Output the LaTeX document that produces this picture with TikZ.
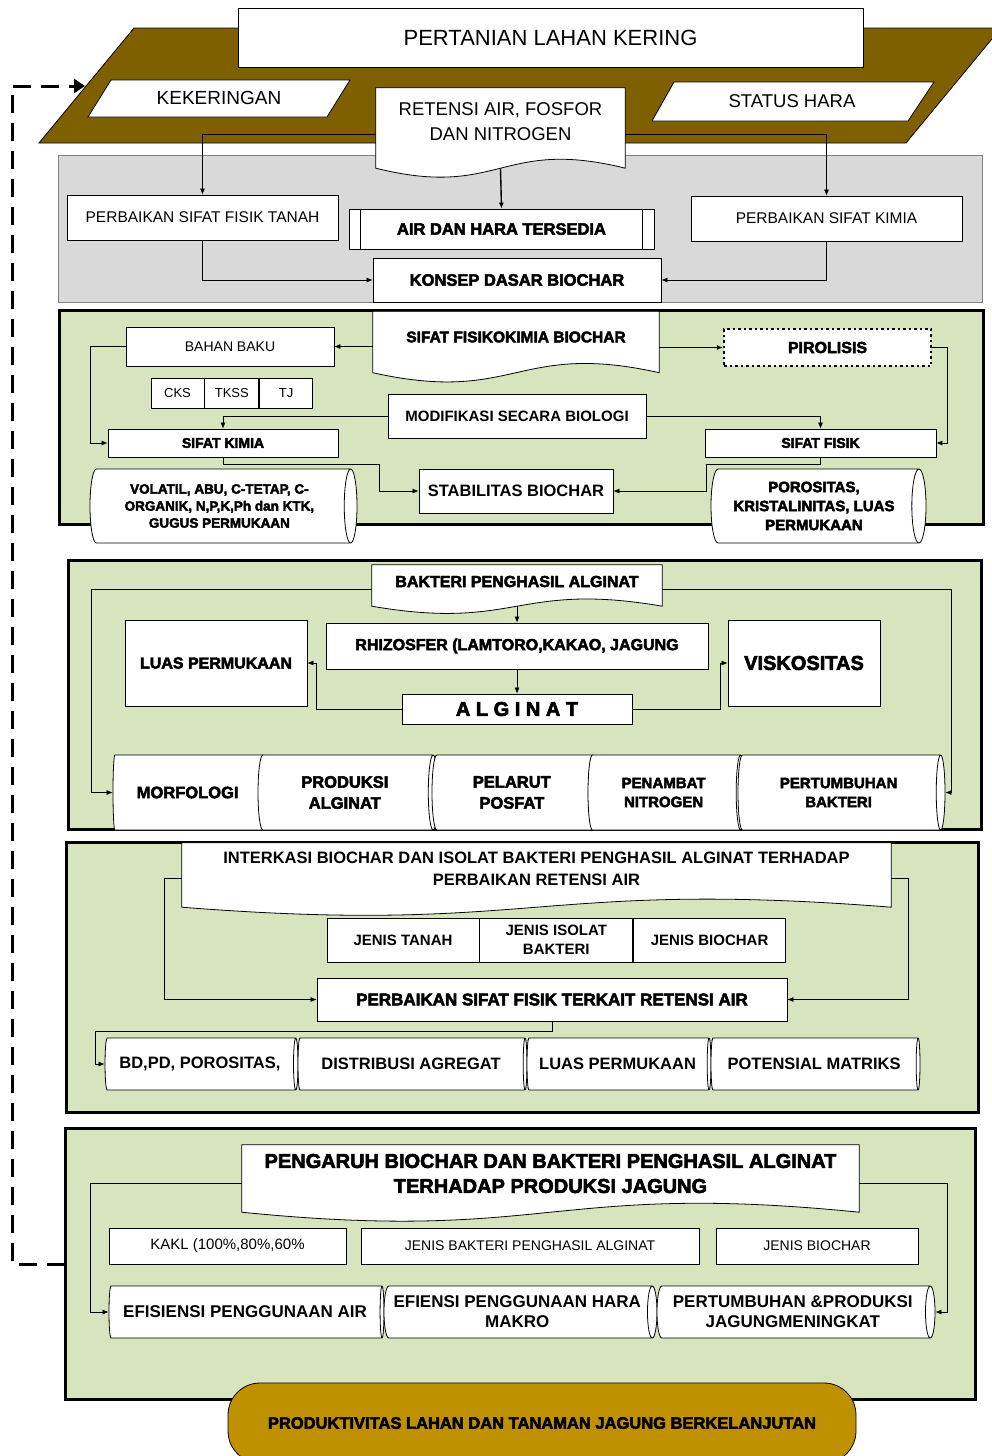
\documentclass[tikz,border=0pt]{standalone}
\usepackage{fontspec}
\setmainfont{Liberation Sans}
\newfontfamily\heavyfont[FakeBold=3]{Liberation Sans}
\usetikzlibrary{shapes,arrows.meta,positioning,calc}
\pgfdeclarelayer{back}
\pgfdeclarelayer{mid}
\pgfsetlayers{back,mid,main}
\definecolor{brownland}{HTML}{7F6000}
\definecolor{graypanel}{HTML}{D9D9D9}
\definecolor{greenpanel}{HTML}{D7E4BD}
\definecolor{goldprod}{HTML}{BF9000}
\newcommand{\fhv}[2]{\fontsize{#1}{#2}\selectfont\heavyfont\bfseries}
\newcommand{\fbd}[2]{\fontsize{#1}{#2}\selectfont\bfseries}
\newcommand{\frg}[2]{\fontsize{#1}{#2}\selectfont}
\newcommand{\wavedoc}[3]{%
  \begin{pgfonlayer}{mid}
    \draw[fill=white, line width=0.8pt] (#1.north west) -- (#1.north east) -- ([yshift=-#2]#1.south east)
      .. controls ($([yshift=-#2]#1.south)+(0,-#3)$) and ($([yshift=-#2]#1.south)+(0,#3)$) .. ([yshift=-#2]#1.south west) -- cycle;
  \end{pgfonlayer}}
\begin{document}
\begin{tikzpicture}[x=1pt, y=-1pt,
  box/.style={draw, fill=white, line width=0.8pt, align=center, inner sep=1pt},
  cyl/.style={cylinder, shape aspect=0.28, draw, fill=white, line width=0.8pt, align=center, inner sep=1pt, anchor=shape center},
  docbox/.style={align=center, inner sep=0pt},
  arr/.style={-{Latex[length=6pt,width=5pt]}, line width=0.7pt},
  panel/.style={draw=black, line width=3pt, fill=greenpanel}]
\useasboundingbox (0,0) rectangle (992,1456);

\begin{pgfonlayer}{back}
\draw[fill=brownland, line width=0.8pt] (39,143) -- (134,28) -- (1001,28) -- (906,143) -- cycle;
\draw[draw=gray, fill=graypanel, line width=0.8pt] (58,155) rectangle (982,302);
\draw[panel] (59,310) rectangle (983,524);
\draw[panel] (68,560) rectangle (981,829);
\draw[panel] (66,842) rectangle (978,1112);
\draw[panel] (65,1128) rectangle (975,1399);
\end{pgfonlayer}

\draw[fill=white, line width=0.8pt] (88,117) -- (111,80) -- (350,80) -- (327,117) -- cycle;
\draw[fill=white, line width=0.8pt] (652,121) -- (674,82) -- (934,82) -- (908,121) -- cycle;
\node[box, minimum width=625pt, minimum height=59pt, font=\frg{22}{26}] (lahan) at (550.5,37.5) {PERTANIAN LAHAN KERING};
\node[font=\frg{19}{22}] (kering) at (219,98) {KEKERINGAN};
\node[font=\frg{18.5}{22}] (hara) at (792,101) {STATUS HARA};
\node[docbox, minimum width=249pt, minimum height=67pt, font=\frg{18.5}{25}] (retensi) at (500.5,121.5) {RETENSI AIR, FOSFOR\\DAN NITROGEN};
\wavedoc{retensi}{13pt}{31}
\node[box, minimum width=271pt, minimum height=45pt, font=\frg{15.5}{18}] (pfisik) at (202.5,217.5) {PERBAIKAN SIFAT FISIK TANAH};
\node[box, minimum width=305pt, minimum height=40pt, font=\fhv{16.5}{19}] (air) at (501.5,229) {AIR DAN HARA TERSEDIA};
\draw[line width=0.8pt] ([xshift=12pt]air.north west) -- ([xshift=12pt]air.south west)
  ([xshift=-12pt]air.north east) -- ([xshift=-12pt]air.south east);
\node[box, minimum width=271pt, minimum height=45pt, font=\frg{15.5}{18}] (pkimia) at (826.5,218.5) {PERBAIKAN SIFAT KIMIA};
\node[box, minimum width=288pt, minimum height=44pt, font=\fhv{16.5}{19}] (konsep) at (517,280) {KONSEP DASAR BIOCHAR};
\draw[arr] ([yshift=-12.5pt]retensi.west) -| (pfisik.north);
\draw[arr] ([yshift=-12.5pt]retensi.east) -| (pkimia.north);
\draw[arr, line width=1.4pt] ([yshift=-13pt]retensi.south) -- (air.north);
\draw[arr] (pfisik.south) |- (konsep.west);
\draw[arr] (pkimia.south) |- (konsep.east);

\node[docbox, minimum width=286pt, minimum height=51pt, font=\fhv{15.5}{18}] (fisiko) at (516,337) {SIFAT FISIKOKIMIA BIOCHAR};
\wavedoc{fisiko}{10pt}{32}
\node[box, minimum width=208pt, minimum height=39pt, font=\frg{14}{17}] (bahan) at (230,346.5) {BAHAN BAKU};
\node[box, line width=2.5pt, dash pattern=on 2.5pt off 3pt, minimum width=207pt, minimum height=37pt, font=\fhv{16}{19}] (piro) at (827.5,347.5) {PIROLISIS};
\node[box, minimum width=53pt, minimum height=30pt, font=\frg{13}{15}] (cks) at (177.5,393) {CKS};
\node[box, minimum width=54pt, minimum height=30pt, font=\frg{13}{15}, right=0pt of cks] (tkss) {TKSS};
\node[box, minimum width=53pt, minimum height=30pt, font=\frg{13}{15}, right=0pt of tkss] (tj) {TJ};
\node[box, minimum width=258pt, minimum height=44pt, font=\fbd{15}{18}] (modif) at (517,416) {MODIFIKASI SECARA BIOLOGI};
\node[box, minimum width=230pt, minimum height=28pt, font=\fhv{14}{16}] (skimia) at (223,443) {SIFAT KIMIA};
\node[box, minimum width=231pt, minimum height=28pt, font=\fhv{14}{16}] (sfisik) at (820.5,443) {SIFAT FISIK};
\node[cyl, minimum height=267pt, minimum width=74pt, font=\fhv{13.5}{17}] (volatil) at (223.5,506) {VOLATIL, ABU, C-TETAP, C-\\ORGANIK, N,P,K,Ph dan KTK,\\GUGUS PERMUKAAN};
\node[box, minimum width=194pt, minimum height=44pt, font=\fbd{16.5}{19}] (stabil) at (516,491) {STABILITAS BIOCHAR};
\node[cyl, minimum height=215pt, minimum width=74pt, font=\fhv{15}{19}] (poros) at (818.5,506) {POROSITAS,\\KRISTALINITAS, LUAS\\PERMUKAAN};
\draw[arr] (fisiko.west |- bahan.east) -- (bahan.east);
\draw[arr] (fisiko.east |- piro.west) -- (piro.west);
\draw[arr] (modif.west) -| (skimia.north);
\draw[arr] (modif.east) -| (sfisik.north);
\draw[arr] (bahan.west) -- ++(-35,0) |- (skimia.west);
\draw[arr] (piro.east) -- ++(15,0) |- (sfisik.east);
\draw[arr] (skimia.south) -- ++(0,7) -| ([xshift=-39pt]stabil.west) -- (stabil.west);
\draw[arr] (sfisik.south) -- ++(0,7) -| ([xshift=93pt]stabil.east) -- (stabil.east);

\node[docbox, minimum width=290pt, minimum height=33pt, font=\fhv{16}{19}] (bakteri) at (517,581.5) {BAKTERI PENGHASIL ALGINAT};
\wavedoc{bakteri}{8pt}{25}
\node[box, minimum width=182pt, minimum height=86pt, font=\fhv{16}{19}] (luas) at (216,663) {LUAS PERMUKAAN};
\node[box, minimum width=382pt, minimum height=46pt, font=\fhv{16}{19}] (rhizo) at (517,646) {RHIZOSFER (LAMTORO,KAKAO, JAGUNG};
\node[box, minimum width=152pt, minimum height=86pt, font=\fhv{20}{24}] (visko) at (804,663) {VISKOSITAS};
\node[box, minimum width=230pt, minimum height=30pt, font=\fhv{20}{24}] (alginat) at (517,709) {A L G I N A T};
\node[cyl, minimum height=152pt, minimum width=75pt, font=\fhv{16.5}{21}] (morf) at (189,792.5) {MORFOLOGI};
\node[cyl, minimum height=180pt, minimum width=75pt, font=\fhv{16.5}{21}] (prod) at (348,792.5) {PRODUKSI\\ALGINAT};
\node[cyl, minimum height=166pt, minimum width=75pt, font=\fhv{16.5}{21}] (pelarut) at (515,792.5) {PELARUT\\POSFAT};
\node[cyl, minimum height=157pt, minimum width=75pt, font=\fhv{15}{19}] (penambat) at (666.5,792.5) {PENAMBAT\\NITROGEN};
\node[cyl, minimum height=207pt, minimum width=75pt, font=\fhv{15}{19}] (pertumb) at (841.5,792.5) {PERTUMBUHAN\\BAKTERI};
\draw[arr] ([yshift=-8pt]bakteri.west) -- ++(-280,0) |- (morf.west);
\draw[arr] ([yshift=-8pt]bakteri.east) -- ++(289,0) |- (pertumb.east);
\draw[arr] ([yshift=-8pt]bakteri.south) -- (rhizo.north);
\draw[arr] (rhizo.south) -- (alginat.north);
\draw[arr] (alginat.west) -- ++(-85,0) |- (luas.east);
\draw[arr] (alginat.east) -- ++(88,0) |- (visko.west);

\node[docbox, minimum width=709pt, minimum height=52pt, font=\fbd{16.5}{22}] (interk) at (536.5,869) {INTERKASI BIOCHAR DAN ISOLAT BAKTERI PENGHASIL ALGINAT TERHADAP\\PERBAIKAN RETENSI AIR};
\wavedoc{interk}{12pt}{28}
\node[box, minimum width=152pt, minimum height=44pt, font=\fbd{15}{19}] (jtanah) at (403,940) {JENIS TANAH};
\node[box, minimum width=153pt, minimum height=44pt, font=\fbd{15}{19}, right=0pt of jtanah] (jisolat) {JENIS ISOLAT\\BAKTERI};
\node[box, minimum width=152pt, minimum height=44pt, font=\fbd{15}{19}, right=0pt of jisolat] (jbiochar) {JENIS BIOCHAR};
\node[box, minimum width=470pt, minimum height=43pt, font=\fhv{17}{19}] (perbfisik) at (552,999.5) {PERBAIKAN SIFAT FISIK TERKAIT RETENSI AIR};
\node[cyl, minimum height=193pt, minimum width=52pt, font=\fbd{16.5}{19}] (bdpd) at (201.5,1064) {BD,PD, POROSITAS,};
\node[cyl, minimum height=229pt, minimum width=52pt, font=\fbd{16.5}{19}] (distrib) at (412.5,1064) {DISTRIBUSI AGREGAT};
\node[cyl, minimum height=184pt, minimum width=52pt, font=\fbd{16.5}{19}] (luasp) at (619,1064) {LUAS PERMUKAAN};
\node[cyl, minimum height=209pt, minimum width=52pt, font=\fbd{16.5}{19}] (potens) at (815.5,1064) {POTENSIAL MATRIKS};
\draw[arr] ([yshift=-9pt]interk.west) -- ++(-17,0) |- (perbfisik.west);
\draw[arr] ([yshift=-9pt]interk.east) -- ++(17,0) |- (perbfisik.east);
\draw[arr] (perbfisik.south) -- ++(0,10) -| ([xshift=-9pt]bdpd.west) -- (bdpd.west);

\node[docbox, minimum width=617pt, minimum height=57pt, font=\fhv{20}{25}] (pengaruh) at (550.5,1173.5) {PENGARUH BIOCHAR DAN BAKTERI PENGHASIL ALGINAT\\TERHADAP PRODUKSI JAGUNG};
\wavedoc{pengaruh}{10pt}{31}
\node[box, minimum width=237pt, minimum height=36pt, font=\frg{15}{18}] (kakl) at (227.5,1246) {KAKL (100\%,80\%,60\%};
\node[box, minimum width=338pt, minimum height=36pt, font=\frg{14}{17}] (jbakteri) at (530,1246) {JENIS BAKTERI PENGHASIL ALGINAT};
\node[box, minimum width=202pt, minimum height=36pt, font=\frg{14}{17}] (jbio) at (817,1246) {JENIS BIOCHAR};
\node[cyl, minimum height=275pt, minimum width=52pt, font=\fbd{17}{20}] (efis) at (246.5,1312) {EFISIENSI PENGGUNAAN AIR};
\node[cyl, minimum height=273pt, minimum width=52pt, font=\fbd{17}{20}] (efien) at (520.5,1312) {EFIENSI PENGGUNAAN HARA\\MAKRO};
\node[cyl, minimum height=278pt, minimum width=52pt, font=\fbd{17}{20}] (pertprod) at (796,1312) {PERTUMBUHAN \&PRODUKSI\\JAGUNGMENINGKAT};
\draw[arr] ([yshift=-10pt]pengaruh.west) -- ++(-151,0) |- (efis.west);
\draw[arr] ([yshift=-10pt]pengaruh.east) -- ++(88,0) |- (pertprod.east);

\node[draw, fill=goldprod, rounded corners=32pt, line width=0.8pt, minimum width=628pt, minimum height=80pt, font=\fhv{16.5}{19}] (produk) at (542,1423) {PRODUKTIVITAS LAHAN DAN TANAMAN JAGUNG BERKELANJUTAN};

\coordinate (fbstart) at (65,1264);
\coordinate (fbend) at (85,86);
\draw[line width=3pt, dash pattern=on 18pt off 10pt, -{Triangle[length=11pt,width=14pt]}] (fbstart) -- ++(-53,0) |- (fbend);
\end{tikzpicture}
\end{document}
